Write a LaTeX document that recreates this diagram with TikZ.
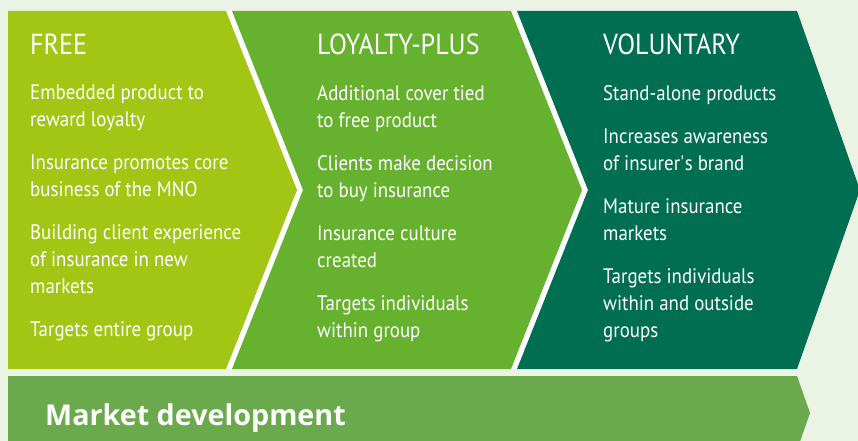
\documentclass[tikz,border=0pt]{standalone}
\usepackage{fontspec}
\setmainfont{PT Sans}[FakeStretch=0.9]
\newfontfamily\barfont{Open Sans}

\begin{document}
\begin{tikzpicture}[x=1pt,y=-1pt,
  stagetitle/.style={anchor=base west,inner sep=0pt,text=white,font=\fontsize{29}{34}\selectfont},
  stagepoints/.style={anchor=north west,inner sep=0pt,text=white,align=left,
    font=\fontsize{21}{27}\selectfont,execute at begin node={\rule{0pt}{20pt}}}]
% Define stage colours
\definecolor{free}{RGB}{163,197,20}
\definecolor{loyalty}{RGB}{102,178,46}
\definecolor{voluntary}{RGB}{0,111,81}
\definecolor{market}{RGB}{106,170,76}
\definecolor{paper}{RGB}{235,243,229}

\useasboundingbox (0,0) rectangle (858,441);
\fill[paper] (0,0) rectangle (858,441);
\clip (0,0) rectangle (858,441);

% White backing shows through between the stages
\fill[white] (8,11) -- (797,11) -- (860,190) -- (797,369) -- (8,369) -- cycle;

% Draw the three stages
\fill[free] (8,11) -- (226,11) -- (297,190) -- (226,369) -- (8,369) -- cycle;
\fill[loyalty] (232,11) -- (511,11) -- (582,190) -- (511,369) -- (232,369) -- (303,190) -- cycle;
\fill[voluntary] (517,11) -- (797,11) -- (860,190) -- (797,369) -- (517,369) -- (588,190) -- cycle;

% Draw market development bar
\fill[market] (8,376) -- (797,376) -- (810,413) -- (797,450) -- (8,450) -- cycle;

% Add stage titles
\node[stagetitle] (free) at (30,55) {FREE};
\node[stagetitle] (loyalty) at (317,55) {LOYALTY-PLUS};
\node[stagetitle] (voluntary) at (603,55) {VOLUNTARY};

% Add stage points
\node[stagepoints] (freepts) at (30,85) {Embedded product to\\reward loyalty\\[16pt]
  Insurance promotes core\\business of the MNO\\[16pt]
  Building client experience\\of insurance in new\\markets\\[16pt]
  Targets entire group};
\node[stagepoints] (loyaltypts) at (317,85) {Additional cover tied\\to free product\\[16pt]
  Clients make decision\\to buy insurance\\[16pt]
  Insurance culture\\created\\[16pt]
  Targets individuals\\within group};
\node[stagepoints] (voluntarypts) at (603,85) {Stand-alone products\\[16pt]
  Increases awareness\\of insurer\textquotesingle s brand\\[16pt]
  Mature insurance\\markets\\[16pt]
  Targets individuals\\within and outside\\groups};

% Add market label
\node[anchor=base west,inner sep=0pt,text=white,font=\barfont\bfseries\fontsize{28.7}{32}\selectfont] (market) at (45,425) {Market development};
\end{tikzpicture}
\end{document}
